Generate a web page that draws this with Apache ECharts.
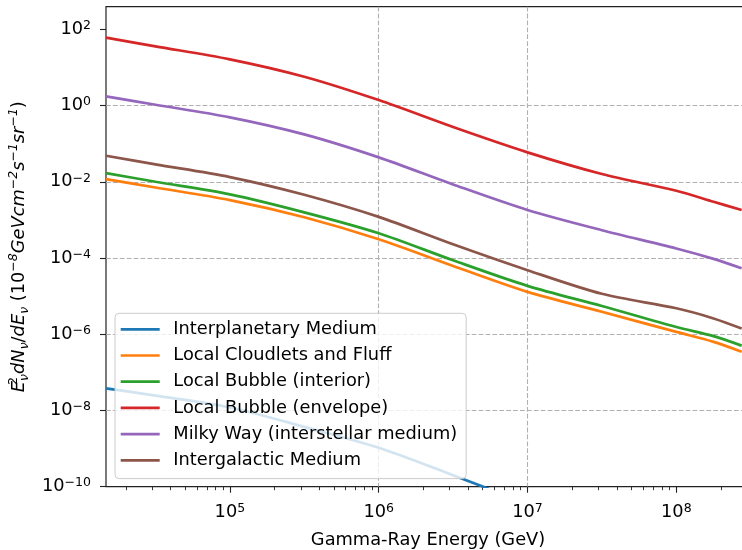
<!DOCTYPE html>
<html><head><meta charset="utf-8">
<script src="https://cdn.jsdelivr.net/npm/echarts@6/dist/echarts.min.js"></script>
<style>html,body{margin:0;padding:0;background:#fff}#c{width:742px;height:550px}</style>
</head><body><div id="c"></div>
<script>
// Energies (GeV) where the curves were sampled
const energy = [1.47e4, 3.16e4, 1e5, 3.16e5, 1e6, 3.16e6, 1e7, 3.16e7, 1e8, 1.78e8, 2.75e8];
// Interplanetary Medium (first 7 energies only; leaves the plot at the bottom)
const interplanetary = [3.80e-8, 2.45e-8, 1.20e-8, 3.72e-9, 1.05e-9, 2.0e-10, 3.55e-11];
const cloudlets = [0.0117, 7.08e-3, 3.31e-3, 1.17e-3, 3.09e-4, 6.17e-5, 1.29e-5, 3.89e-6, 1.15e-6, 6.31e-7, 3.47e-7];
const bubbleInterior = [0.0169, 0.0100, 4.68e-3, 1.58e-3, 4.47e-4, 8.71e-5, 1.86e-5, 5.50e-6, 1.55e-6, 8.91e-7, 5.01e-7];
const bubbleEnvelope = [60.3, 35.8, 16.3, 5.70, 1.39, 0.273, 0.0592, 0.0160, 5.81e-3, 2.99e-3, 1.81e-3];
const milkyWay = [1.74, 1.05, 0.490, 0.175, 0.0437, 8.51e-3, 1.82e-3, 5.37e-4, 1.78e-4, 9.5e-5, 5.37e-5];
const intergalactic = [0.0481, 0.0286, 0.0133, 4.57e-3, 1.20e-3, 2.29e-4, 4.79e-5, 1.15e-5, 4.79e-6, 2.60e-6, 1.41e-6];

const seriesNames = ['Interplanetary Medium', 'Local Cloudlets and Fluff', 'Local Bubble (interior)',
  'Local Bubble (envelope)', 'Milky Way (interstellar medium)', 'Intergalactic Medium'];
const seriesValues = [interplanetary, cloudlets, bubbleInterior, bubbleEnvelope, milkyWay, intergalactic];
const colors = ['#1f77b4', '#ff7f0e', '#2ca02c', '#d62728', '#9467bd', '#8c564b'];

const xTickExp = [5, 6, 7, 8];
const yTickExp = [-10, -8, -6, -4, -2, 0, 2];
const xLim = [1.47e4, 3.13e8];
const yLim = [1e-10, 392];

const lx0 = Math.log10(xLim[0]), lx1 = Math.log10(xLim[1]);
const ly0 = Math.log10(yLim[0]), ly1 = Math.log10(yLim[1]);
const minorX = [];
for (let d = 4; d <= 8; d++) for (let k = 2; k <= 9; k++) {
  const v = d + Math.log10(k);
  if (v > lx0 && v < lx1) minorX.push(v);
}

const FONT = 'DejaVu Sans';
const FS = 17.8, SS = 12.5;
const pow = v => { const n = Math.round(v); return '{b|10}{s|' + (n < 0 ? '\u2212' + (-n) : n) + '}'; };
const tickRich = {
  b: { fontFamily: FONT, fontSize: FS, color: '#000', lineHeight: 20 },
  s: { fontFamily: FONT, fontSize: SS, color: '#000', verticalAlign: 'top', lineHeight: 12 }
};
const axisColor = '#222';
const gridLine = { color: '#b0b0b0', width: 1.1, type: [4.8, 2.1] };

const chart = echarts.init(document.getElementById('c'), null, { renderer: 'canvas' });
const gridW = (lx1 - lx0) * 148.8;
const gridBox = { left: 106, top: 6.7, width: gridW, height: 480, containLabel: false, outerBoundsMode: 'none' };
chart.setOption({
  animation: false,
  backgroundColor: '#fff',
  grid: [
    Object.assign({ show: true, borderColor: axisColor, borderWidth: 1.2, backgroundColor: 'transparent' }, gridBox),
    Object.assign({ show: false }, gridBox)
  ],
  legend: {
    orient: 'vertical', left: 115, top: 313.3, z: 10,
    icon: 'rect', itemWidth: 39, itemHeight: 2.7, itemGap: 8.2,
    padding: [7, 9, 9.3, 5.7],
    backgroundColor: 'rgba(255,255,255,0.8)', borderColor: '#cccccc', borderWidth: 1, borderRadius: 4,
    textStyle: { fontFamily: FONT, fontSize: FS, color: '#000', lineHeight: 18, padding: [0, 0, 0, 8.6] },
    data: seriesNames
  },
  xAxis: [{
    type: 'value', gridIndex: 0, min: lx0, max: lx1, position: 'bottom',
    axisLine: { show: false, onZero: false },
    axisTick: { show: true, customValues: xTickExp, length: 6, lineStyle: { color: axisColor, width: 1.1 } },
    axisLabel: { customValues: xTickExp, formatter: pow, rich: tickRich, margin: 16 },
    splitLine: { show: true, showMinLine: false, showMaxLine: false, lineStyle: gridLine },
    name: 'Gamma-Ray Energy (GeV)', nameLocation: 'middle', nameGap: 45,
    nameTextStyle: { fontFamily: FONT, fontSize: FS, color: '#000' }
  }, {
    type: 'value', gridIndex: 1, min: lx0, max: lx1, position: 'bottom',
    axisLine: { show: false, onZero: false },
    axisTick: { show: true, customValues: minorX, length: 3.5, lineStyle: { color: axisColor, width: 0.9 } },
    axisLabel: { show: false }, splitLine: { show: false }
  }],
  yAxis: [{
    type: 'value', gridIndex: 0, min: ly0, max: ly1, interval: 2,
    axisLine: { show: false, onZero: false },
    axisTick: { show: true, customValues: yTickExp, length: 6, lineStyle: { color: axisColor, width: 1.1 } },
    axisLabel: { customValues: yTickExp, formatter: pow, rich: tickRich, margin: 15 },
    splitLine: { show: true, showMinLine: false, showMaxLine: false, lineStyle: gridLine },
    name: '{i|E}{p0|2}{q|\u03bd}{i|dN}{q|\u03bd}{n|/}{i|dE}{q|\u03bd}{n| (10}{p|\u22128}{i|GeVcm}{p|\u22122}{i|s}{p|\u22121}{i|sr}{p|\u22121}{n|)}',
    nameLocation: 'middle', nameRotate: 90, nameGap: 74,
    nameTextStyle: {
      rich: {
        i: { fontFamily: FONT, fontStyle: 'italic', fontSize: FS, color: '#000', lineHeight: 24 },
        n: { fontFamily: FONT, fontSize: FS, color: '#000', lineHeight: 24 },
        p: { fontFamily: FONT, fontStyle: 'italic', fontSize: SS, color: '#000', verticalAlign: 'top', lineHeight: 12 },
        p0: { fontFamily: FONT, fontSize: SS, color: '#000', verticalAlign: 'top', lineHeight: 12, width: 0.01, align: 'left' },
        q: { fontFamily: FONT, fontStyle: 'italic', fontSize: SS, color: '#000', verticalAlign: 'bottom', lineHeight: 12 }
      }
    }
  }, {
    type: 'value', gridIndex: 1, min: ly0, max: ly1, show: false,
    axisLine: { onZero: false }
  }],
  series: seriesNames.map((name, si) => ({
    name, type: 'line', xAxisIndex: 0, yAxisIndex: 0, symbol: 'none', smooth: 0.3, clip: true,
    lineStyle: { color: colors[si], width: 2.7 }, itemStyle: { color: colors[si] },
    data: seriesValues[si].map((v, i) => [Math.log10(energy[i]), Math.log10(v)])
  }))
});
</script></body></html>
